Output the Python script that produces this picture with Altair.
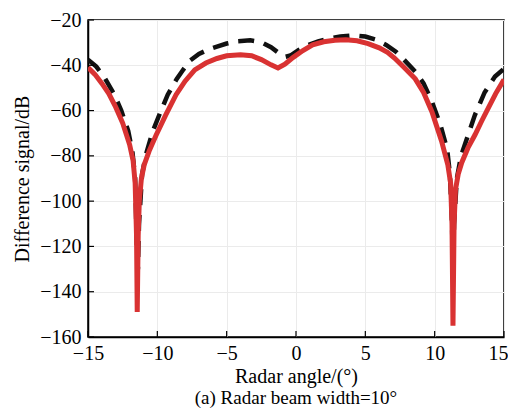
import altair as alt
import pandas as pd

# Red solid series (Radar angle in degrees, difference signal in dB)
red_x = [-15.0, -14.5, -14.0, -13.5, -13.0, -12.5, -12.0, -11.75, -11.6, -11.5, -11.45,
         -11.38, -11.3, -11.15, -10.95, -10.6, -10.1, -9.4, -8.65, -8.0, -7.3, -6.5,
         -5.7, -5.0, -4.0, -3.2, -2.5, -1.8, -1.3, -0.8, -0.2, 0.5, 1.2, 2.0, 2.8, 3.6,
         4.4, 5.2, 6.0, 6.6, 7.1, 7.8, 8.6, 9.2, 9.8, 10.5, 10.95, 11.15, 11.25, 11.32,
         11.4, 11.5, 11.7, 11.95, 12.4, 12.9, 13.4, 13.9, 14.4, 14.95, 15.0]
red_y = [-41, -44, -48, -52.5, -58.5, -65.5, -75, -82, -92, -115, -149,
         -115, -100, -90, -84, -78, -71, -62, -53, -47, -42, -39,
         -37, -35.8, -35.3, -35.8, -37.5, -39.8, -41.2, -39.5, -36.5, -33.5, -31, -29.6, -28.9, -28.7,
         -29.2, -30.4, -32.3, -34.3, -36.8, -41, -46, -52, -60.5, -73.5, -84, -92, -110, -155,
         -110, -95, -88, -83, -76.5, -70.8, -64.5, -58.5, -52.5, -46.8, -46.4]

# Black dashed series
blk_x = [-15.0, -14.4, -13.8, -13.1, -12.6, -12.1, -11.8, -11.6, -11.48, -11.4, -11.32,
         -11.1, -10.8, -10.34, -9.8, -9.25, -8.6, -8.2, -7.65, -7.0, -6.3, -5.7, -5.0,
         -4.2, -3.3, -2.5, -1.8, -1.2, -0.8, -0.4, 0.2, 0.9, 1.6, 2.4, 3.2, 4.2, 5.0,
         5.8, 6.5, 7.2, 7.8, 8.6, 9.2, 9.8, 10.4, 10.9, 11.1, 11.25, 11.32, 11.4, 11.6,
         11.9, 12.18, 12.9, 13.6, 14.35, 15.0]
blk_y = [-37.5, -40.6, -45.5, -53, -60, -69, -78, -90, -120, -130, -110,
         -88, -79, -69.3, -61, -53, -46, -42.5, -38, -35, -33, -31.8, -30.4,
         -29.4, -29.0, -29.8, -32, -34.8, -36.3, -35.7, -33.2, -31, -29.4, -28.2, -27.3, -26.8, -27.3,
         -28.8, -31, -34, -37.6, -42.8, -48, -56, -66, -77, -88, -110, -130, -110, -90,
         -80, -75, -62, -52, -45, -41.5]

x_ticks = [-15, -10, -5, 0, 5, 10, 15]
y_ticks = [-160, -140, -120, -100, -80, -60, -40, -20]

red_df = pd.DataFrame({"angle": red_x, "signal": red_y, "order": range(len(red_x))})
blk_df = pd.DataFrame({"angle": blk_x, "signal": blk_y, "order": range(len(blk_x))})
xt_df = pd.DataFrame({"angle": x_ticks})
yt_df = pd.DataFrame({"signal": y_ticks})

FONT = "Liberation Serif"

xscale = alt.Scale(domain=[-15, 15], nice=False, zero=False)
yscale = alt.Scale(domain=[-160, -20], nice=False, zero=False)

x_axis = alt.Axis(
    values=x_ticks, title="Radar angle/(°)", ticks=False, labelPadding=6,
    titlePadding=3, grid=True, labelFlush=False, titleFontSize=20,
    labelAlign={"condition": {"test": "datum.value == 15", "value": "right"}, "value": "center"},
    labelOffset={"condition": {"test": "datum.value == 15", "value": 4}, "value": 0},
)
y_axis = alt.Axis(values=y_ticks, title="Difference signal/dB", ticks=False, labelPadding=7,
                  titlePadding=7, grid=True, labelFlush=False, titleFontSize=20)

X = alt.X("angle:Q", scale=xscale, axis=x_axis)
Y = alt.Y("signal:Q", scale=yscale, axis=y_axis)

dashed = alt.Chart(blk_df).mark_line(
    color="#111111", strokeWidth=4.5, strokeDash=[16, 10], clip=True
).encode(x=X, y=Y, order="order:Q")

solid = alt.Chart(red_df).mark_line(
    color="#d93232", strokeWidth=5, clip=True
).encode(x=X, y=Y, order="order:Q")

xticks = alt.Chart(xt_df).mark_rule(color="black", strokeWidth=1.2).encode(
    x=X,
    y=alt.value(317),
    y2=alt.value(311),
)
yticks = alt.Chart(yt_df).mark_rule(color="black", strokeWidth=1.2).encode(
    y=Y,
    x=alt.value(0),
    x2=alt.value(6),
)

chart = alt.layer(dashed, solid, xticks, yticks).properties(
    width=416,
    height=317,
    background="white",
    autosize=alt.AutoSizeParams(type="none"),
    padding={"left": 80, "top": 12, "right": 4, "bottom": 74},
    title=alt.TitleParams("(a) Radar beam width=10°", orient="bottom", anchor="middle",
                          offset=3, font=FONT, fontSize=19, fontWeight="normal", color="black"),
).configure_view(
    stroke="black", strokeWidth=1.5
).configure_axis(
    domainColor="black", domainWidth=1.5, gridColor="#ebebeb", gridWidth=1,
    labelFont=FONT, labelFontSize=20, labelColor="black",
    titleFont=FONT, titleFontWeight="normal", titleColor="black",
)

chart.save("out.html", embed_options={"renderer": "svg", "actions": False})
